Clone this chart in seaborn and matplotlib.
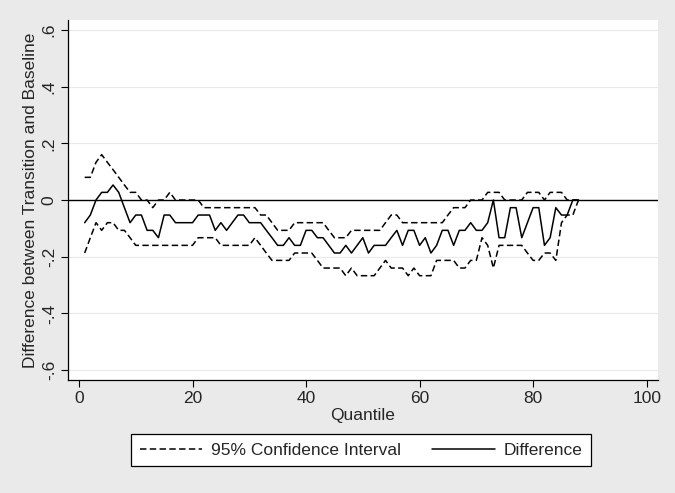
import numpy as np
import pandas as pd
import matplotlib
matplotlib.use("Agg")
import matplotlib.pyplot as plt
import seaborn as sns
from matplotlib.lines import Line2D

# ---- data ----
quantile = list(range(1, 89))
difference = [
    -0.080, -0.053, 0.000, 0.027, 0.027, 0.053, 0.027, -0.027, -0.080, -0.053,
    -0.053, -0.107, -0.107, -0.133, -0.053, -0.053, -0.080, -0.080, -0.080, -0.080,
    -0.053, -0.053, -0.053, -0.107, -0.080, -0.107, -0.080, -0.053, -0.053, -0.080,
    -0.080, -0.080, -0.107, -0.133, -0.160, -0.160, -0.133, -0.160, -0.160, -0.107,
    -0.107, -0.133, -0.133, -0.160, -0.187, -0.187, -0.160, -0.187, -0.160, -0.133,
    -0.187, -0.160, -0.160, -0.160, -0.133, -0.107, -0.160, -0.107, -0.107, -0.160,
    -0.133, -0.187, -0.160, -0.107, -0.107, -0.160, -0.107, -0.107, -0.080, -0.107,
    -0.107, -0.080, 0.000, -0.133, -0.133, -0.027, -0.027, -0.133, -0.080, -0.027,
    -0.027, -0.160, -0.133, -0.027, -0.053, -0.053, 0.000, 0.000,
]
upper_ci = [
    0.080, 0.080, 0.133, 0.160, 0.133, 0.107, 0.080, 0.053, 0.027, 0.027,
    0.000, 0.000, -0.027, 0.000, 0.000, 0.027, 0.000, 0.000, 0.000, 0.000,
    0.000, -0.027, -0.027, -0.027, -0.027, -0.027, -0.027, -0.027, -0.027, -0.027,
    -0.027, -0.053, -0.053, -0.080, -0.107, -0.107, -0.107, -0.080, -0.080, -0.080,
    -0.080, -0.080, -0.080, -0.107, -0.133, -0.133, -0.133, -0.107, -0.107, -0.107,
    -0.107, -0.107, -0.107, -0.080, -0.053, -0.053, -0.080, -0.080, -0.080, -0.080,
    -0.080, -0.080, -0.080, -0.080, -0.053, -0.027, -0.027, -0.027, 0.000, 0.000,
    0.000, 0.027, 0.027, 0.027, 0.000, 0.000, 0.000, 0.000, 0.027, 0.027,
    0.027, 0.000, 0.027, 0.027, 0.027, 0.000, 0.000, 0.000,
]
lower_ci = [
    -0.187, -0.133, -0.080, -0.107, -0.080, -0.080, -0.107, -0.107, -0.133, -0.160,
    -0.160, -0.160, -0.160, -0.160, -0.160, -0.160, -0.160, -0.160, -0.160, -0.160,
    -0.133, -0.133, -0.133, -0.133, -0.160, -0.160, -0.160, -0.160, -0.160, -0.160,
    -0.133, -0.160, -0.187, -0.213, -0.213, -0.213, -0.213, -0.187, -0.187, -0.187,
    -0.187, -0.213, -0.240, -0.240, -0.240, -0.240, -0.267, -0.240, -0.267, -0.267,
    -0.267, -0.267, -0.240, -0.213, -0.240, -0.240, -0.240, -0.267, -0.240, -0.267,
    -0.267, -0.267, -0.213, -0.213, -0.213, -0.213, -0.240, -0.240, -0.213, -0.213,
    -0.133, -0.160, -0.240, -0.160, -0.160, -0.160, -0.160, -0.160, -0.187, -0.213,
    -0.213, -0.187, -0.187, -0.213, -0.080, -0.053, -0.053, 0.000,
]
x_ticks = [0, 20, 40, 60, 80, 100]
y_ticks = [-0.6, -0.4, -0.2, 0.0, 0.2, 0.4, 0.6]
y_ticklabels = ["-.6", "-.4", "-.2", "0", ".2", ".4", ".6"]
legend_labels = ["95% Confidence Interval", "Difference"]

df = pd.DataFrame({"Quantile": quantile, "Difference": difference,
                   "Upper": upper_ci, "Lower": lower_ci})

sns.set_theme(style="white")
plt.rcParams["font.family"] = ["Liberation Sans", "DejaVu Sans"]

fs = 12.5
bg = "#EAEAEA"
fig = plt.figure(figsize=(6.75, 4.93), dpi=100, facecolor=bg)
ax = fig.add_axes([0.1007, 0.2292, 0.8741, 0.7302])
ax.set_facecolor("white")

dash = (0, (4.2, 2.2))
lw = 1.1
sns.lineplot(data=df, x="Quantile", y="Upper", ax=ax, color="black", lw=lw, linestyle=dash)
sns.lineplot(data=df, x="Quantile", y="Lower", ax=ax, color="black", lw=lw, linestyle=dash)
sns.lineplot(data=df, x="Quantile", y="Difference", ax=ax, color="black", lw=lw)

ax.axhline(0, color="black", lw=1.0, zorder=1)
for yv in [-0.6, -0.4, -0.2, 0.2, 0.4, 0.6]:
    ax.axhline(yv, color="#EAEAEA", lw=0.8, zorder=0)

ax.set_xlim(-1.94, 102.0)
ax.set_ylim(-0.635, 0.635)
ax.set_xticks(x_ticks)
ax.set_xticklabels([str(t) for t in x_ticks], fontsize=fs)
ax.set_yticks(y_ticks)
ax.set_yticklabels(y_ticklabels, fontsize=fs, rotation=90, va="center")
ax.tick_params(axis="both", direction="out", length=5, width=0.8, color="black",
               left=True, bottom=True, pad=3)
for s in ["top", "right"]:
    ax.spines[s].set_visible(False)
for s in ["left", "bottom"]:
    ax.spines[s].set_color("black")
    ax.spines[s].set_linewidth(0.9)

ax.set_xlabel("Quantile", fontsize=fs, labelpad=1)
ax.set_ylabel("Difference between Transition and Baseline", fontsize=fs, labelpad=3)

handles = [Line2D([], [], color="black", lw=lw, linestyle=dash),
           Line2D([], [], color="black", lw=lw)]
leg = fig.legend(handles, legend_labels, loc="center", bbox_to_anchor=(0.535, 0.087),
                 ncol=2, fontsize=fs, frameon=True, fancybox=False, edgecolor="black",
                 facecolor="white", framealpha=1, handlelength=3.6, handletextpad=0.5,
                 columnspacing=1.8, borderpad=0.5)
leg.get_frame().set_linewidth(0.9)

fig.savefig("out.png", dpi=100, facecolor=bg)
